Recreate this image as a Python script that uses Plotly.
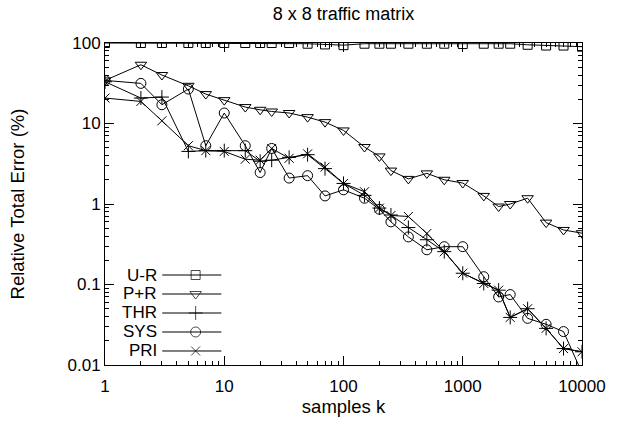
import plotly.graph_objects as go

# ---- data ----
k = [1, 2, 3, 5, 7, 10, 15, 20, 25, 35, 50, 70, 100, 150, 200, 250, 350, 500,
     700, 1000, 1500, 2000, 2500, 3500, 5000, 7000, 10000]
u_r = [100, 100, 100, 100, 100, 100, 100, 100, 100, 100, 98, 96, 94, 98, 98, 98,
       98, 98, 98, 97, 98, 98, 98, 95, 93, 93, 90]
p_r = [34.3, 53.7, 40, 29.4, 23.2, 19.5, 16, 14.8, 14.1, 13.5, 12, 10.4, 8.2,
       5.1, 3.9, 2.6, 2.05, 2.4, 2.0, 1.82, 1.26, 0.93, 1.0, 1.18, 0.587, 0.476, 0.434]
thr = [33, 20.7, 21.3, 4.5, 4.6, 4.6, 4.6, 3.4, 3.5, 3.8, 4.1, 2.75, 1.8, 1.28,
       0.89, 0.73, 0.51, 0.36, 0.256, 0.138, 0.103, 0.085, 0.039, 0.05, 0.0285, 0.016, 0.0146]
sys_ = [34.3, 31.5, 17.1, 26.8, 5.3, 13.5, 5.3, 2.46, 4.9, 2.1, 2.25, 1.26, 1.5,
        1.18, 0.86, 0.60, 0.39, 0.27, 0.295, 0.295, 0.125, 0.07, 0.075, 0.038, 0.032, 0.026, 0.008]
pri = [20.7, 18.8, 10.8, 5.3, 4.6, 4.5, 3.6, 3.5, 4.9, 3.7, 4.2, 2.87, 1.8, 1.42,
       0.89, 0.72, 0.70, 0.43, 0.256, 0.138, 0.103, 0.085, 0.039, 0.05, 0.0285, 0.016, 0.0146]

series_names = ["U-R", "P+R", "THR", "SYS", "PRI"]
series_vals = [u_r, p_r, thr, sys_, pri]
symbols = ["square-open", "triangle-down-open", "cross-thin-open", "circle-open", "x-thin-open"]
sizes = [9, 10, 10, 10, 9]

FONT = "Liberation Sans, Arial, sans-serif"

fig = go.Figure()
for name, vals, sym, sz in zip(series_names, series_vals, symbols, sizes):
    fig.add_trace(go.Scatter(
        x=k, y=vals, name=name, mode="lines+markers",
        line=dict(color="black", width=1),
        marker=dict(symbol=sym, size=sz, color="black", line=dict(color="black", width=1)),
        cliponaxis=True, showlegend=False,
    ))

# ---- custom legend (text left, sample right, like gnuplot) ----
leg_text_x = 0.114
leg_x0, leg_xm, leg_x1 = 0.12, 0.190, 0.244
leg_y = [0.2795, 0.2205, 0.1615, 0.1025, 0.0435]
for name, sym, sz, yy in zip(series_names, symbols, sizes, leg_y):
    fig.add_trace(go.Scatter(
        x=[leg_x0, leg_xm, leg_x1], y=[yy, yy, yy], xaxis="x2", yaxis="y2",
        mode="lines+markers", line=dict(color="black", width=1),
        marker=dict(symbol=sym, size=[0, sz, 0], color="black",
                    line=dict(color="black", width=1)),
        showlegend=False, hoverinfo="skip",
    ))
    fig.add_annotation(x=leg_text_x, y=yy, xref="paper", yref="paper", text=name,
                       showarrow=False, xanchor="right", yanchor="middle",
                       font=dict(family=FONT, size=17, color="black"))

axis_common = dict(
    type="log", dtick=1, exponentformat="none",
    ticks="inside", ticklen=9, tickwidth=1, tickcolor="black",
    mirror="allticks", showline=True, linecolor="black", linewidth=1,
    showgrid=False, zeroline=False,
    tickfont=dict(family=FONT, size=17, color="black"),
    minor=dict(dtick="D1", ticks="inside", ticklen=4, tickwidth=1,
               tickcolor="black", showgrid=False),
)

fig.update_layout(
    width=618, height=425,
    margin=dict(l=105, r=30, t=43, b=60),
    paper_bgcolor="white", plot_bgcolor="white",
    font=dict(family=FONT, size=17, color="black"),
    title=dict(text="8 x 8 traffic matrix", xref="paper", x=0.5, xanchor="center",
               yref="container", y=1 - 14 / 425, yanchor="middle",
               font=dict(family=FONT, size=18, color="black")),
    xaxis=dict(range=[0, 4], ticklabelstandoff=6, tickformat="d",
               title=dict(text="samples k", standoff=0, font=dict(family=FONT, size=18.5)),
               **axis_common),
    yaxis=dict(range=[-2, 2],
               title=dict(text="Relative Total Error (%)", standoff=38,
                          font=dict(family=FONT, size=18.5)),
               **axis_common),
    xaxis2=dict(range=[0, 1], overlaying="x", visible=False),
    yaxis2=dict(range=[0, 1], overlaying="y", visible=False),
)

fig.write_html("out.html", config={"displayModeBar": False},
               post_script="document.body.style.margin='0px';")
